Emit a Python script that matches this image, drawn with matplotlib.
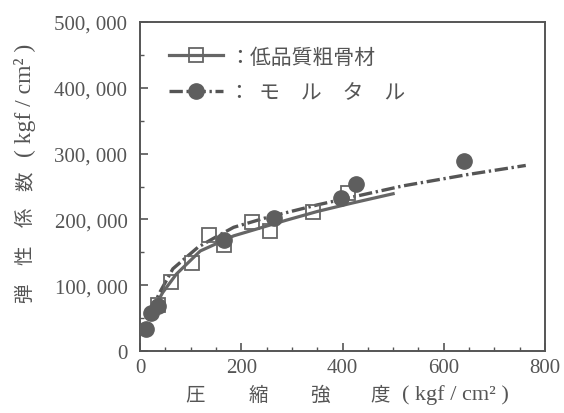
"""
Elastic modulus vs compressive strength: low-quality coarse aggregate vs mortar.
"""

import matplotlib
matplotlib.use('Agg')
import matplotlib.pyplot as plt
from matplotlib.ticker import MultipleLocator, FuncFormatter

# --- data (kgf/cm2) ---
sq_x = [36, 62, 102, 136, 165, 222, 257, 342, 410]
sq_y = [70000, 105000, 134000, 176000, 161000, 196000, 182000, 212000, 240000]

circ_x = [12, 22, 36, 166, 265, 398, 426, 640]
circ_y = [33000, 58000, 68000, 168000, 202000, 232000, 254000, 289000]

fit_sq_x = [20, 45, 72, 119, 185, 290, 350, 420, 500]
fit_sq_y = [55000, 89000, 117000, 152000, 175000, 199000, 212000, 225000, 239000]

fit_circ_x = [20, 39, 65, 115, 154, 185, 251, 350, 455, 520, 646, 762]
fit_circ_y = [58000, 89000, 125000, 158000, 175000, 188000, 203000, 222000,
              240000, 251000, 268000, 282000]

xticks = [0, 200, 400, 600, 800]
yticks = [0, 100000, 200000, 300000, 400000, 500000]

GRAY = '#555555'
SERIF = ['Liberation Serif', 'Noto Sans CJK JP']
CJK = ['Noto Sans CJK JP', 'DejaVu Sans']
DASH = (4.0, 1.1, 0.7, 1.1)


def ylab(v, pos):
    if v == 0:
        return '0'
    s = f'{int(v):,}'
    return s.replace(',', ', ')


def main():
    W, H = 564, 414
    fig = plt.figure(figsize=(W / 100, H / 100), dpi=100)
    ax = fig.add_axes([140 / W, 1 - 352 / H, 405 / W, 329 / H])

    # fitted curves
    ax.plot(fit_sq_x, fit_sq_y, '-', color='#666666', lw=2.3, zorder=2)
    ax.plot(fit_circ_x, fit_circ_y, color=GRAY, lw=2.4, zorder=2, dashes=DASH)

    # points
    ax.plot(sq_x, sq_y, 's', ms=9.5, mfc='none', mec='#666666', mew=1.3,
            zorder=3)
    ax.plot(circ_x, circ_y, 'o', ms=11, mfc='#5e5e5e', mec='#5e5e5e',
            zorder=3)

    # legend handles
    h1, = ax.plot([], [], '-s', color='#666666', lw=2.3, ms=9.5, mfc='none',
                  mec='#666666', mew=1.3)
    h2, = ax.plot([], [], 'o', color=GRAY, lw=2.4, ms=11, mfc='#5e5e5e',
                  mec='#5e5e5e', ls=(0, DASH))
    leg = ax.legend([h1, h2], ['：低品質粗骨材', '：  モ　ル　タ　ル'],
                    loc='upper left', bbox_to_anchor=(0.025, 0.985),
                    frameon=False, handlelength=2.6, handletextpad=0.3,
                    labelspacing=0.65, numpoints=1,
                    prop={'family': CJK, 'size': 15})
    for t in leg.get_texts():
        t.set_color(GRAY)

    ax.set_xlim(0, 800)
    ax.set_ylim(0, 500000)
    ax.set_xticks(xticks)
    ax.set_yticks(yticks)
    ax.xaxis.set_minor_locator(MultipleLocator(50))
    ax.yaxis.set_minor_locator(MultipleLocator(50000))
    ax.yaxis.set_major_formatter(FuncFormatter(ylab))

    for s in ax.spines.values():
        s.set_color(GRAY)
        s.set_linewidth(1.4)
    ax.tick_params(which='both', direction='in', colors=GRAY,
                   top=False, right=False)
    ax.tick_params(which='major', length=6, width=1.2)
    ax.tick_params(which='minor', length=3, width=1.0)
    ax.tick_params(axis='y', pad=9)
    ax.tick_params(axis='x', pad=5)
    for lab in ax.get_xticklabels() + ax.get_yticklabels():
        lab.set_family(SERIF)
        lab.set_fontsize(15)
        lab.set_color(GRAY)

    # axis titles, spaced out like the original typesetting
    for ch, px in zip('圧縮強度', [195, 258, 320, 380]):
        fig.text(px / W, 1 - 395 / H, ch, ha='center', va='center',
                 family=CJK, fontsize=14, color=GRAY)
    fig.text(455 / W, 1 - 395 / H, '( kgf / cm² )', ha='center', va='center',
             family=SERIF, fontsize=16, color=GRAY)

    for ch, py in zip('弾性係数', [293, 255, 217, 181]):
        fig.text(25 / W, 1 - py / H, ch, ha='center', va='center',
                 rotation=90, family=CJK, fontsize=14, color=GRAY)
    fig.text(25 / W, 1 - 100 / H, '( kgf / cm² )', ha='center', va='center',
             rotation=90, family=SERIF, fontsize=17, color=GRAY)

    fig.savefig('out.png', dpi=100)
    print("Saved out.png")


if __name__ == '__main__':
    main()
